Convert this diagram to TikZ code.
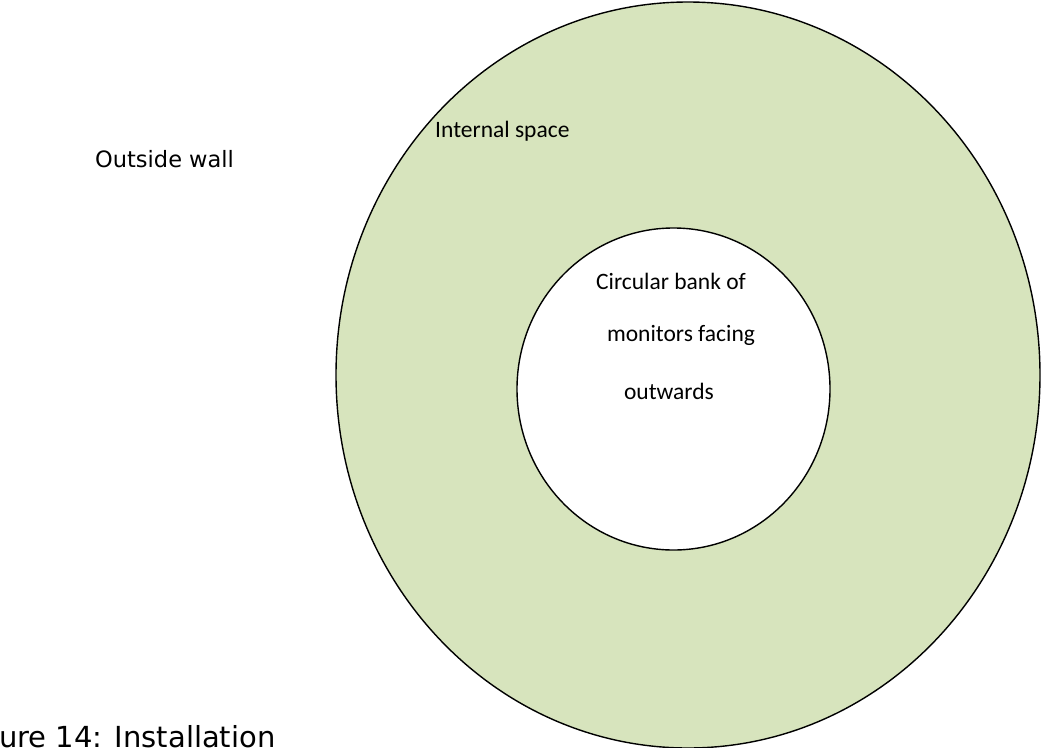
\documentclass[tikz,border=0pt]{standalone}
\usepackage{fontspec}
\setmainfont{Carlito}
\newfontfamily\verd{DejaVu Sans}
\definecolor{roomgreen}{HTML}{D7E4BD}
\tikzset{
  wall/.style={draw=black, line width=1.4pt},
  calibrilabel/.style={inner sep=0pt, font=\fontsize{23.5}{28}\selectfont},
  verdlabel/.style={inner sep=0pt, font=\verd\fontsize{22.5}{27}\selectfont},
}
\begin{document}
\begin{tikzpicture}[x=1pt, y=-1pt]
\useasboundingbox (0,0) rectangle (1044,747);
\clip (0,0) rectangle (1044,747);
% outer room and the inner bank of monitors
\draw[wall, fill=roomgreen] (688,375) ellipse [x radius=352, y radius=373];
\draw[wall, fill=white] (673.5,389) ellipse [x radius=156.5, y radius=161];
% labels
\node[verdlabel, anchor=west] (outside) at (95,159) {Outside wall};
\node[calibrilabel, anchor=west] (internal) at (435,131) {Internal space};
\node[calibrilabel] (bank1) at (671,281) {Circular bank of};
\node[calibrilabel] (bank2) at (681,335) {monitors facing};
\node[calibrilabel] (bank3) at (669,391) {outwards};
% caption, cut by the page edge
\node[inner sep=0pt, font=\verd\fontsize{29}{34}\selectfont, anchor=base west] (caption) at (-1,747) {ure 14: Installation};
\end{tikzpicture}
\end{document}
